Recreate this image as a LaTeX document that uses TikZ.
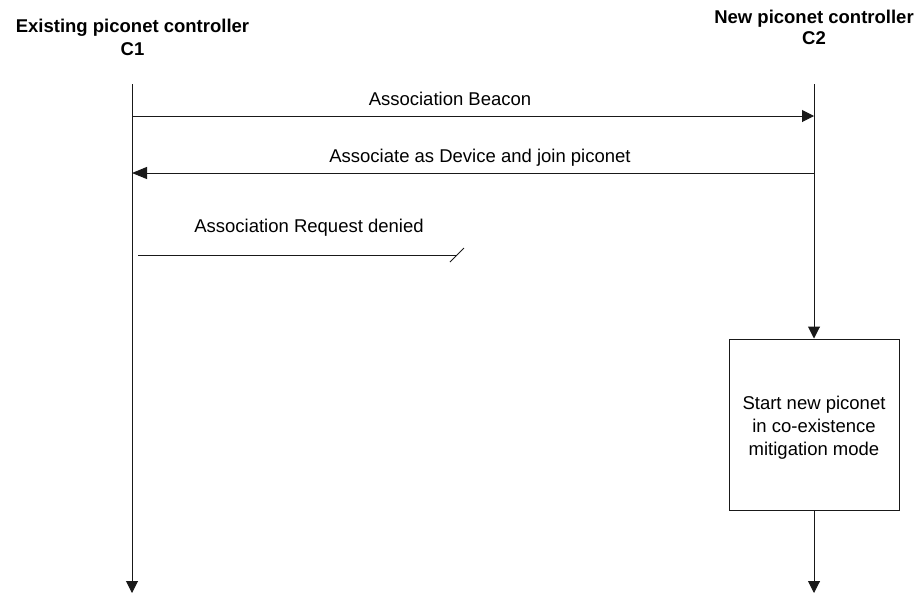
\documentclass[tikz,border=0pt]{standalone}
\usepackage{fontspec}
\setmainfont{Liberation Sans}
\usetikzlibrary{arrows.meta}
\begin{document}
\begin{tikzpicture}[x=1pt,y=-1pt,
  every node/.style={font=\fontsize{18.5}{23}\selectfont, inner sep=0pt},
  title/.style={font=\fontsize{18.5}{22}\selectfont\bfseries, align=center, anchor=base},
  lbl/.style={anchor=base},
  line/.style={line width=1pt, draw=black!90},
  msg/.style={line, -{Triangle[length=12pt,width=12pt]}},
  bigmsg/.style={line, -{Triangle[length=15pt,width=12pt]}},
  procbox/.style={draw=black!90, line width=1pt, minimum width=170pt, minimum height=171pt, align=center}]
\useasboundingbox (0,0) rectangle (918,595);
% titles
\node[title] (t1) at (132.5,32) {Existing piconet controller};
\node[title] (t1b) at (132.5,55) {C1};
\node[title] (t2) at (814,23) {New piconet controller};
\node[title] (t2b) at (814,44) {C2};
% lifeline coordinates
\coordinate (c1top) at (132,84);
\coordinate (c1bot) at (132,593);
\coordinate (c2top) at (814,84);
\coordinate (c2bot) at (814,593);
\node[procbox] (box) at (814,424.5) {};
\node[anchor=base] (bt1) at (814,409) {Start new piconet};
\node[anchor=base] (bt2) at (814,432) {in co-existence};
\node[anchor=base] (bt3) at (814,455) {mitigation mode};
% lifelines
\draw[msg] (c1top) -- (c1bot);
\draw[msg] (c2top) -- (box.north);
\draw[msg] (box.south) -- (c2bot);
% messages
\coordinate (m1a) at (132,116);
\coordinate (m1b) at (814,116);
\draw[msg] (m1a) -- (m1b);
\node[lbl] (l1) at (450,105) {Association Beacon};
\coordinate (m2a) at (814,173);
\coordinate (m2b) at (132,173);
\draw[bigmsg] (m2a) -- (m2b);
\node[lbl] (l2) at (480,162) {Associate as Device and join piconet};
\coordinate (m3a) at (138,255);
\coordinate (m3b) at (457,255);
\coordinate (s1) at (450,262);
\coordinate (s2) at (464,248);
\draw[line] (m3a) -- (m3b);
\draw[line] (s1) -- (s2);
\node[lbl] (l3) at (309,232) {Association Request denied};
\end{tikzpicture}
\end{document}
